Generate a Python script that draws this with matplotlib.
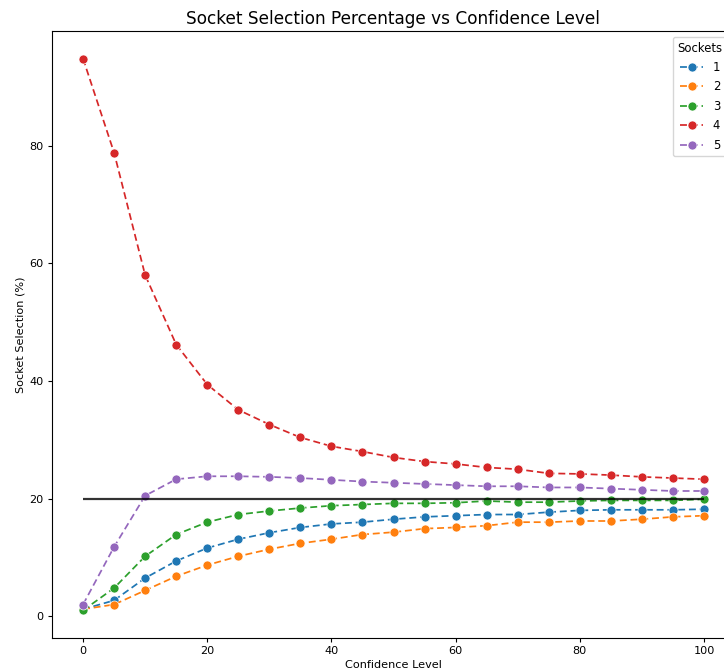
import matplotlib
matplotlib.use("Agg")
import matplotlib.pyplot as plt

confidence = [0, 5, 10, 15, 20, 25, 30, 35, 40, 45, 50, 55, 60, 65, 70, 75, 80, 85, 90, 95, 100]
socket_labels = ["1", "2", "3", "4", "5"]
socket1 = [1.2, 2.7, 6.5, 9.4, 11.6, 13.1, 14.2, 15.1, 15.7, 16.0, 16.5, 16.9, 17.1, 17.3, 17.3, 17.7, 18.0, 18.1, 18.1, 18.1, 18.2]
socket2 = [1.2, 2.0, 4.4, 6.8, 8.7, 10.2, 11.4, 12.4, 13.1, 13.9, 14.3, 14.9, 15.1, 15.4, 16.0, 16.0, 16.2, 16.2, 16.5, 16.9, 17.1]
socket3 = [1.0, 4.8, 10.2, 13.9, 16.0, 17.3, 17.9, 18.4, 18.8, 19.0, 19.2, 19.2, 19.3, 19.6, 19.4, 19.4, 19.6, 19.7, 19.7, 19.7, 19.9]
socket4 = [94.8, 78.8, 58.0, 46.2, 39.4, 35.1, 32.6, 30.4, 28.9, 28.0, 27.0, 26.3, 25.9, 25.3, 25.0, 24.3, 24.2, 24.0, 23.7, 23.5, 23.3]
socket5 = [2.0, 11.8, 20.5, 23.3, 23.8, 23.8, 23.7, 23.5, 23.2, 22.9, 22.7, 22.5, 22.3, 22.1, 22.1, 21.9, 21.9, 21.7, 21.5, 21.3, 21.3]
series = [socket1, socket2, socket3, socket4, socket5]
colors = ["#1f77b4", "#ff7f0e", "#2ca02c", "#d62728", "#9467bd"]
reference_level = 20

fig = plt.figure(figsize=(7.24, 6.72), dpi=100)
ax = fig.add_axes([52 / 724, 1 - 638 / 672, 683 / 724, (638 - 31) / 672])

for lab, vals, c in zip(socket_labels, series, colors):
    ax.plot(confidence, vals, linestyle="--", marker="o", color=c, label=lab,
            markersize=6.5, markeredgecolor="white", markeredgewidth=0.5,
            linewidth=1.25, dashes=(4, 2.2))

ax.hlines(reference_level, confidence[0], confidence[-1], color="black", linewidth=1.6, alpha=0.8)

ax.set_title("Socket Selection Percentage vs Confidence Level", fontsize=12.2, pad=5)
ax.set_xlabel("Confidence Level", fontsize=8.1, labelpad=3)
ax.set_ylabel("Socket Selection (%)", fontsize=8.1, labelpad=3)
ax.tick_params(labelsize=8.1, length=3, pad=3)
for s in ax.spines.values():
    s.set_linewidth(0.8)
ax.legend(title="Sockets", loc="upper left", bbox_to_anchor=(673 / 724, 1 - 37 / 672),
          bbox_transform=fig.transFigure, borderaxespad=0,
          fontsize=8.4, title_fontsize=8.4, handlelength=2, labelspacing=0.55)

fig.savefig("out.png", dpi=100)
